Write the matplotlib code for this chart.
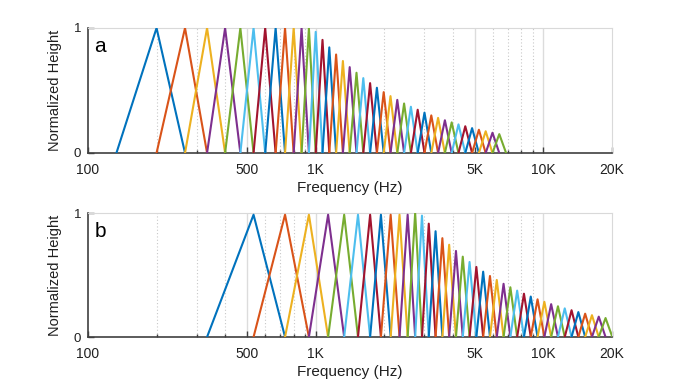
import matplotlib
matplotlib.use("Agg")
import matplotlib.pyplot as plt
from matplotlib.ticker import FixedLocator, NullFormatter

plt.rcParams['font.family'] = ['Liberation Sans', 'DejaVu Sans']

# ---------------------------------------------------------------- data
# filter edge frequencies (Hz): filter i runs edges[i] -> edges[i+1] (peak) -> edges[i+2]
edges_a = [133.3, 200.0, 266.7, 333.3, 400.0, 466.7, 533.3, 600.0, 666.7, 733.3,
           800.0, 866.7, 933.3, 999.8, 1070.9, 1147.1, 1228.8, 1316.2, 1409.9,
           1510.2, 1617.7, 1732.8, 1856.2, 1988.3, 2129.8, 2281.3, 2443.7, 2617.6,
           2803.9, 3003.4, 3217.2, 3446.1, 3691.4, 3954.1, 4235.5, 4536.9, 4859.8,
           5205.6, 5575.9, 5973.0, 6398.0, 6854.1]
heights_a = [1.0] * 12 + [
    0.969, 0.905, 0.845, 0.788, 0.736, 0.687, 0.642, 0.599, 0.559, 0.522,
    0.487, 0.455, 0.425, 0.396, 0.370, 0.346, 0.323, 0.301, 0.281, 0.262,
    0.245, 0.229, 0.214, 0.199, 0.186, 0.174, 0.162, 0.151]

edges_b = [333.3, 533.3, 733.3, 933.3, 1133.3, 1333.3, 1533.3, 1733.3, 1933.3,
           2133.3, 2333.3, 2533.3, 2733.3, 2927.9, 3136.3, 3359.5, 3598.5, 3854.7,
           4129.0, 4422.8, 4737.6, 5074.8, 5435.9, 5822.7, 6237.1, 6681.0, 7156.5,
           7665.8, 8211.3, 8795.7, 9421.7, 10092.2, 10810.5, 11579.7, 12403.8,
           13286.6, 14232.1, 15245.0, 16329.9, 17492.0, 18736.9, 20070.3]
heights_b = [0.986] * 11 + [1.0] + [
    0.979, 0.914, 0.853, 0.797, 0.744, 0.694, 0.648, 0.605, 0.565, 0.527,
    0.492, 0.460, 0.429, 0.401, 0.374, 0.349, 0.326, 0.304, 0.284, 0.265,
    0.248, 0.231, 0.216, 0.201, 0.188, 0.176, 0.164, 0.153]

major_ticks = [100, 500, 1000, 5000, 10000, 20000]
major_labels = ['100', '500', '1K', '5K', '10K', '20K']
minor_ticks = [200, 300, 400, 600, 700, 800, 900,
               2000, 3000, 4000, 6000, 7000, 8000, 9000]

colors = ['#0072BD', '#D95319', '#EDB120', '#7E2F8E', '#77AC30', '#4DBEEE', '#A2142F']
AX_DARK = '#404040'
AX_LIGHT = '#d9d9d9'


def draw_panel(ax, edges, heights, letter):
    for i, h in enumerate(heights):
        ax.plot([edges[i], edges[i + 1], edges[i + 2]], [0, h, 0],
                color=colors[i % len(colors)], lw=1.5, zorder=3, clip_on=True)
    ax.set_xscale('log')
    ax.set_xlim(100, 20000)
    ax.set_ylim(0, 1)
    ax.xaxis.set_major_locator(FixedLocator(major_ticks))
    ax.set_xticklabels(major_labels)
    ax.xaxis.set_minor_locator(FixedLocator(minor_ticks))
    ax.xaxis.set_minor_formatter(NullFormatter())
    ax.set_yticks([0, 1])
    ax.set_yticklabels(['0', '1'])
    for x in major_ticks[1:-1]:
        ax.axvline(x, color='#dcdcdc', lw=1.0, zorder=1)
    for x in minor_ticks:
        ax.axvline(x, color='#c8c8c8', lw=0.8, ls=(0, (1, 2)), zorder=1)
    ax.tick_params(axis='both', which='both', direction='in', colors=AX_DARK,
                   labelcolor='#202020', labelsize=10, width=1.0)
    ax.tick_params(axis='x', which='major', length=4, pad=7)
    ax.tick_params(axis='x', which='minor', length=2.5)
    ax.tick_params(axis='y', length=4, pad=5, labelsize=9.5)
    ax.spines['left'].set_color(AX_DARK)
    ax.spines['bottom'].set_color(AX_DARK)
    ax.spines['left'].set_linewidth(1.2)
    ax.spines['bottom'].set_linewidth(1.2)
    ax.spines['top'].set_color(AX_LIGHT)
    ax.spines['right'].set_color(AX_LIGHT)
    ax.set_xlabel('Frequency (Hz)', fontsize=11, color='#202020', labelpad=3)
    ax.set_ylabel('Normalized Height', fontsize=10.5, color='#202020', labelpad=8)
    ax.text(0.012, 0.93, letter, transform=ax.transAxes, fontsize=15,
            ha='left', va='top', color='black')


fig = plt.figure(figsize=(6.76, 3.88), dpi=100)
ax1 = fig.add_axes([88 / 676, 1 - 153 / 388, 524 / 676, 125 / 388])
ax2 = fig.add_axes([88 / 676, 1 - 337 / 388, 524 / 676, 124 / 388])
draw_panel(ax1, edges_a, heights_a, 'a')
draw_panel(ax2, edges_b, heights_b, 'b')

fig.savefig('out.png', dpi=100)
